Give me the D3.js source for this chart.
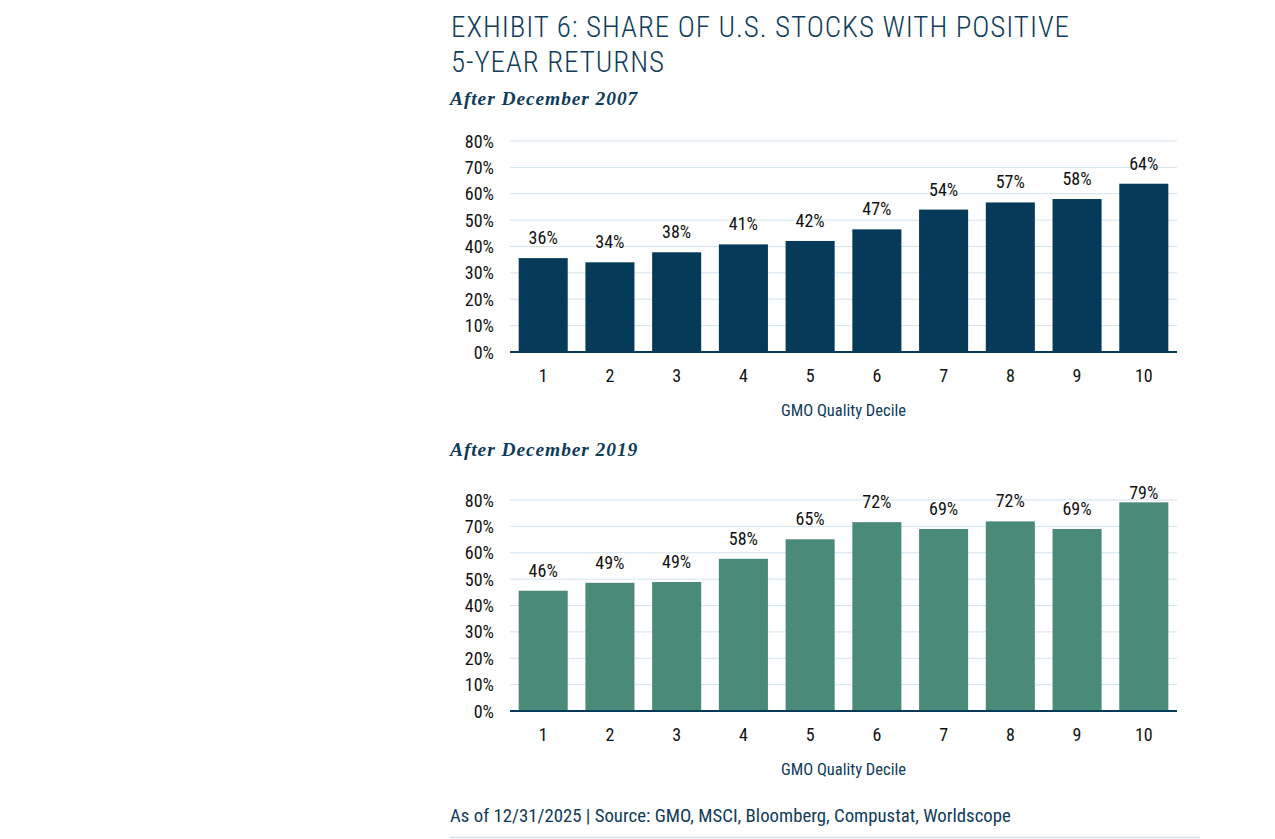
<!DOCTYPE html>
<html>
<head>
<meta charset="utf-8">
<script src="https://cdn.jsdelivr.net/npm/d3@7"></script>
<style>
  body { margin: 0; background: #fff; }
  .cond { font-family: "Roboto Condensed", "Liberation Sans Narrow", "Arial Narrow", Roboto, sans-serif; }
  .serif { font-family: "Liberation Serif", "DejaVu Serif", serif; }
</style>
</head>
<body>
<svg width="1275" height="839"></svg>
<script>
// Data
const deciles = ["1", "2", "3", "4", "5", "6", "7", "8", "9", "10"];
const after2007 = [0.356, 0.340, 0.378, 0.408, 0.421, 0.465, 0.540, 0.567, 0.580, 0.638];
const after2019 = [0.456, 0.486, 0.489, 0.577, 0.651, 0.716, 0.690, 0.719, 0.690, 0.791];
const yTicks = [0, 0.1, 0.2, 0.3, 0.4, 0.5, 0.6, 0.7, 0.8];

const navy = "#053a58";
const green = "#4a8a78";
const textBlue = "#0f3c5a";

const svg = d3.select("svg");

// Title
const title = svg.append("text")
  .attr("class", "cond")
  .attr("fill", textBlue)
  .attr("font-size", 29)
  .attr("font-weight", 300)
  .attr("letter-spacing", 0.95);
title.append("tspan").attr("x", 451).attr("y", 37).text("EXHIBIT 6: SHARE OF U.S. STOCKS WITH POSITIVE");
title.append("tspan").attr("x", 451).attr("y", 72).text("5-YEAR RETURNS");

// Draw one panel
function panel(subtitle, values, color, top, subY) {
  const x0 = 510, x1 = 1177;
  const yTop = top + 141, yBase = top + 352;

  svg.append("text")
    .attr("class", "serif")
    .attr("x", 450).attr("y", subY)
    .attr("fill", textBlue)
    .attr("font-size", 19.5)
    .attr("font-weight", "bold")
    .attr("font-style", "italic")
    .attr("letter-spacing", 0.9)
    .text(subtitle);

  const x = d3.scaleBand().domain(deciles).range([x0, x1]).paddingInner(0.265).paddingOuter(0.13);
  const y = d3.scaleLinear().domain([0, 0.8]).range([yBase, yTop]);

  // gridlines
  svg.append("g")
    .selectAll("line")
    .data(yTicks.slice(1))
    .join("line")
    .attr("x1", x0).attr("x2", x1)
    .attr("y1", d => y(d)).attr("y2", d => y(d))
    .attr("stroke", "#d3e3ec")
    .attr("stroke-width", 1);

  // y tick labels
  svg.append("g")
    .selectAll("text")
    .data(yTicks)
    .join("text")
    .attr("class", "cond")
    .attr("x", 494)
    .attr("y", d => y(d) + 6.5)
    .attr("text-anchor", "end")
    .attr("font-size", 18)
    .attr("fill", "#111")
    .text(d3.format(".0%"));

  // bars
  svg.append("g")
    .selectAll("rect")
    .data(values)
    .join("rect")
    .attr("x", (d, i) => x(deciles[i]))
    .attr("width", x.bandwidth())
    .attr("y", d => y(d))
    .attr("height", d => yBase - y(d))
    .attr("fill", color);

  // value labels (kept inside the plot area at the top)
  svg.append("g")
    .selectAll("text")
    .data(values)
    .join("text")
    .attr("class", "cond")
    .attr("x", (d, i) => x(deciles[i]) + x.bandwidth() / 2)
    .attr("y", d => Math.max(y(d) - 14, yTop - 1))
    .attr("text-anchor", "middle")
    .attr("font-size", 18)
    .attr("fill", "#111")
    .text(d3.format(".0%"));

  // baseline
  svg.append("line")
    .attr("x1", x0).attr("x2", x1)
    .attr("y1", yBase).attr("y2", yBase)
    .attr("stroke", navy)
    .attr("stroke-width", 2);

  // x tick labels
  svg.append("g")
    .selectAll("text")
    .data(deciles)
    .join("text")
    .attr("class", "cond")
    .attr("x", d => x(d) + x.bandwidth() / 2)
    .attr("y", yBase + 30)
    .attr("text-anchor", "middle")
    .attr("font-size", 18)
    .attr("fill", "#111")
    .text(d => d);

  // axis title
  svg.append("text")
    .attr("class", "cond")
    .attr("x", (x0 + x1) / 2)
    .attr("y", yBase + 64)
    .attr("text-anchor", "middle")
    .attr("font-size", 16.5)
    .attr("fill", textBlue)
    .text("GMO Quality Decile");
}

panel("After December 2007", after2007, navy, 0, 105);
panel("After December 2019", after2019, green, 359, 456);

// footer
svg.append("text")
  .attr("class", "cond")
  .attr("x", 450).attr("y", 822)
  .attr("font-size", 18.8)
  .attr("fill", textBlue)
  .text("As of 12/31/2025 | Source: GMO, MSCI, Bloomberg, Compustat, Worldscope");

svg.append("line")
  .attr("x1", 450).attr("x2", 1200)
  .attr("y1", 837.5).attr("y2", 837.5)
  .attr("stroke", "#d3e3ec")
  .attr("stroke-width", 1.5);
</script>
</body>
</html>
